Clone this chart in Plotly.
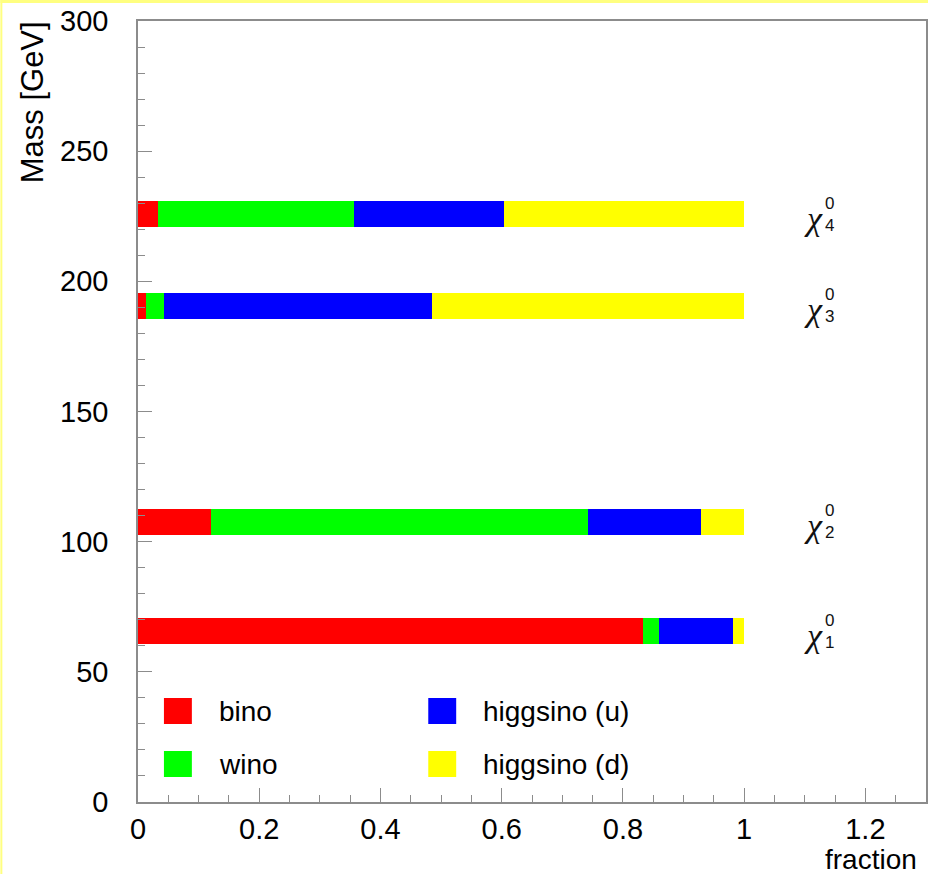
import plotly.graph_objects as go

# ---- data ----
states = ["1", "2", "3", "4"]
masses = [65.6, 107.6, 190.7, 225.7]          # GeV (bar centres)
bino = [0.833, 0.120, 0.014, 0.033]
wino = [0.026, 0.622, 0.029, 0.323]
higgsino_u = [0.122, 0.186, 0.442, 0.248]
higgsino_d = [0.019, 0.072, 0.515, 0.396]
comp_names = ["bino", "wino", "higgsino (u)", "higgsino (d)"]
comp_colors = ["#ff0000", "#00ff00", "#0000ff", "#ffff00"]
comp_values = [bino, wino, higgsino_u, higgsino_d]
bar_height = 10.0

W, H = 930, 874
L, R, T, B = 138, 2, 21, 72
PW, PH = W - L - R, H - T - B


def px(xp):
    return (xp - L) / PW


def py(yp):
    return (H - B - yp) / PH


fig = go.Figure()
for name, col, vals in zip(comp_names, comp_colors, comp_values):
    fig.add_trace(go.Bar(
        y=masses, x=vals, orientation="h", width=bar_height,
        name=name, marker=dict(color=col, line=dict(width=0)),
        showlegend=False,
    ))

axis_col = "#8c8c8c"
SANS = "Liberation Sans, Arial, sans-serif"
tickfont = dict(family=SANS, size=29, color="black")

fig.update_layout(
    width=W, height=H,
    margin=dict(l=L, r=R, t=T, b=B),
    barmode="stack",
    bargap=0,
    paper_bgcolor="white",
    plot_bgcolor="white",
    xaxis=dict(
        range=[0, 1.3],
        tickvals=[0, 0.2, 0.4, 0.6, 0.8, 1.0, 1.2],
        ticktext=["0", "0.2", "0.4", "0.6", "0.8", "1", "1.2"],
        ticks="inside", ticklen=14, tickwidth=1.2, tickcolor=axis_col,
        minor=dict(dtick=0.05, tick0=0, ticks="inside", ticklen=7, tickcolor=axis_col, tickwidth=1.2),
        showline=True, linecolor=axis_col, linewidth=1.5, mirror=True,
        showgrid=False, zeroline=False,
        tickfont=tickfont, ticklabelstandoff=0,
    ),
    yaxis=dict(
        range=[0, 300], dtick=50, tick0=0,
        ticks="inside", ticklen=14, tickwidth=1.2, tickcolor=axis_col,
        minor=dict(dtick=10, ticks="inside", ticklen=7, tickcolor=axis_col, tickwidth=1.2),
        showline=True, linecolor=axis_col, linewidth=1.5, mirror=True,
        showgrid=False, zeroline=False,
        tickfont=tickfont, ticklabelstandoff=22,
    ),
)

ann = []
shapes = []

# axis titles
ann.append(dict(text="Mass [GeV]", xref="paper", yref="paper", x=px(32), y=py(20),
                xanchor="center", yanchor="top", textangle=-90, showarrow=False,
                borderpad=0, font=dict(family=SANS, size=31, color="black")))
ann.append(dict(text="fraction", xref="paper", yref="paper", x=px(920), y=py(876),
                xanchor="right", yanchor="bottom", showarrow=False,
                borderpad=0, font=dict(family=SANS, size=28, color="black")))

# chi labels
for s, m in zip(states, masses):
    ann.append(dict(text="<i>χ</i>", xref="x", yref="y", x=px(826) * 1.3, y=m, yshift=-4,
                    xanchor="right", yanchor="middle", showarrow=False, borderpad=0,
                    font=dict(family="Liberation Serif, DejaVu Serif, serif", size=34, color="#111")))
    ann.append(dict(text="0<br>" + s, xref="x", yref="y", x=px(826) * 1.3, y=m, yshift=0,
                    xanchor="left", yanchor="middle", align="left", showarrow=False, borderpad=0,
                    font=dict(family=SANS, size=17, color="#111")))

# manual legend (2 x 2)
leg_pos = [(164, 698), (164, 751), (429, 698), (429, 751)]
for (lx, ly), name, col in zip(leg_pos, comp_names, comp_colors):
    shapes.append(dict(type="rect", xref="paper", yref="paper",
                       x0=px(lx), x1=px(lx + 28), y0=py(ly + 26), y1=py(ly),
                       fillcolor=col, line=dict(width=0)))
    ann.append(dict(text=name, xref="paper", yref="paper", x=px(lx + 53), y=py(ly + 13),
                    xanchor="left", yanchor="middle", showarrow=False,
                    font=dict(family=SANS, size=28, color="black")))

# yellow page border (top and left)
shapes.append(dict(type="rect", xref="paper", yref="paper", layer="above",
                   x0=px(0), x1=px(W), y0=py(3), y1=py(0),
                   fillcolor="#ffff80", line=dict(width=0)))
shapes.append(dict(type="rect", xref="paper", yref="paper", layer="above",
                   x0=px(0), x1=px(2), y0=py(H), y1=py(0),
                   fillcolor="#ffff80", line=dict(width=0)))

fig.update_layout(annotations=ann, shapes=shapes)
fig.write_html("out.html")
